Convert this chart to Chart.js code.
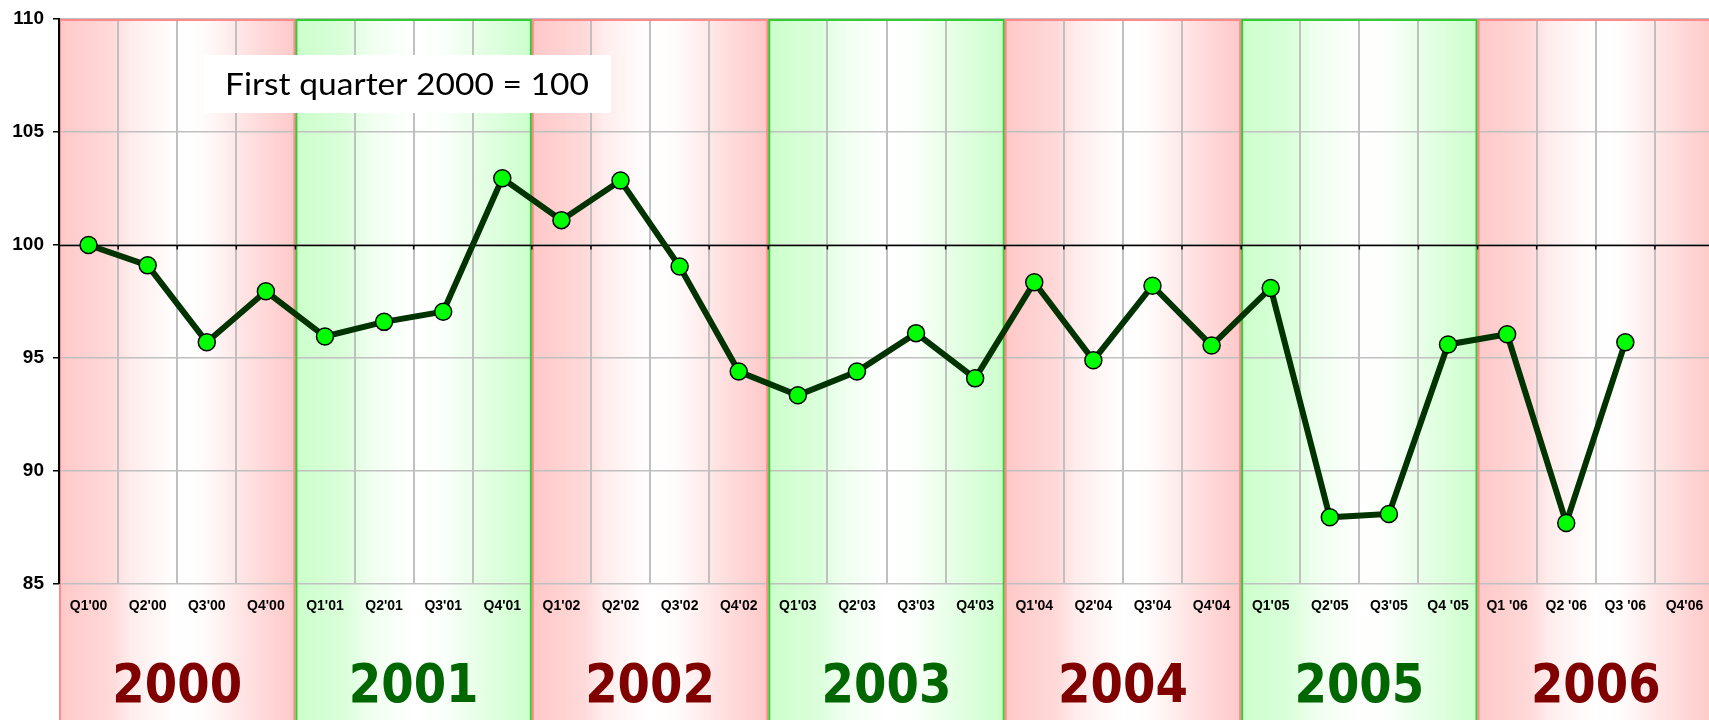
<!DOCTYPE html>
<html>
<head>
<meta charset="utf-8">
<script src="https://cdn.jsdelivr.net/npm/chart.js@4/dist/chart.umd.min.js"></script>
<style>
  html, body { margin: 0; padding: 0; overflow: hidden; background: #fff; }
  canvas { display: block; }
</style>
</head>
<body>
<canvas id="c" width="1714" height="720"></canvas>
<script>
// quarterly index, first quarter 2000 = 100
const quarters = [
  "Q1'00", "Q2'00", "Q3'00", "Q4'00",
  "Q1'01", "Q2'01", "Q3'01", "Q4'01",
  "Q1'02", "Q2'02", "Q3'02", "Q4'02",
  "Q1'03", "Q2'03", "Q3'03", "Q4'03",
  "Q1'04", "Q2'04", "Q3'04", "Q4'04",
  "Q1'05", "Q2'05", "Q3'05", "Q4 '05",
  "Q1 '06", "Q2 '06", "Q3 '06", "Q4'06"
];
const indexValues = [
  100.0, 99.1, 95.7, 97.95,
  95.95, 96.6, 97.05, 102.95,
  101.1, 102.85, 99.05, 94.4,
  93.35, 94.4, 96.1, 94.1,
  98.35, 94.9, 98.2, 95.55,
  98.1, 87.95, 88.1, 95.6,
  96.05, 87.7, 95.7, null
];
const years = ['2000', '2001', '2002', '2003', '2004', '2005', '2006'];
const yTicks = [85, 90, 95, 100, 105, 110];
const baseLine = 100;
const noteText = 'First quarter 2000 = 100';

// colours alternate red / green per year
const bandTint = ['255,200,200', '204,255,204'];
const bandEdge = ['#ff8a8a', '#33cc33'];
const yearInk = ['#800000', '#006600'];

function bandGradient(ctx, left, right, tint) {
  const g = ctx.createLinearGradient(left, 0, right, 0);
  g.addColorStop(0, 'rgba(' + tint + ',1)');
  g.addColorStop(0.22, 'rgba(' + tint + ',0.7)');
  g.addColorStop(0.3, 'rgba(' + tint + ',0.35)');
  g.addColorStop(0.5, 'rgba(' + tint + ',0)');
  g.addColorStop(0.62, 'rgba(' + tint + ',0.08)');
  g.addColorStop(0.78, 'rgba(' + tint + ',0.5)');
  g.addColorStop(1, 'rgba(' + tint + ',1)');
  return g;
}

function bandBounds(x, i) {
  const step = x.getPixelForValue(1) - x.getPixelForValue(0);
  const left = x.getPixelForValue(i * 4) - step / 2;
  const right = x.getPixelForValue(i * 4 + 3) + step / 2;
  return { left, right, step };
}

const yearBands = {
  id: 'yearBands',
  beforeDraw(chart) {
    const ctx = chart.ctx;
    const x = chart.scales.x;
    const top = chart.chartArea.top;
    ctx.save();
    ctx.fillStyle = '#fff';
    ctx.fillRect(0, 0, chart.width, chart.height);
    years.forEach((y, i) => {
      const b = bandBounds(x, i);
      ctx.fillStyle = bandGradient(ctx, b.left, b.right, bandTint[i % 2]);
      ctx.fillRect(b.left, top, b.right - b.left, chart.height - top);
    });
    ctx.restore();
  },
  beforeDatasetsDraw(chart) {
    const ctx = chart.ctx;
    const x = chart.scales.x;
    const yS = chart.scales.y;
    const area = chart.chartArea;
    ctx.save();
    // band outlines
    ctx.lineWidth = 2;
    years.forEach((y, i) => {
      const b = bandBounds(x, i);
      ctx.strokeStyle = bandEdge[i % 2];
      ctx.beginPath();
      ctx.moveTo(b.left + 1, chart.height);
      ctx.lineTo(b.left + 1, area.top + 1);
      ctx.lineTo(b.right - 1, area.top + 1);
      ctx.lineTo(b.right - 1, chart.height);
      ctx.stroke();
    });
    // redraw the y axis line over the first band edge
    ctx.strokeStyle = '#000';
    ctx.beginPath();
    ctx.moveTo(area.left, area.top);
    ctx.lineTo(area.left, area.bottom);
    ctx.stroke();
    // reference line at 100 with small ticks
    const yb = Math.round(yS.getPixelForValue(baseLine)) + 0.5;
    ctx.lineWidth = 1.5;
    ctx.beginPath();
    ctx.moveTo(area.left, yb);
    ctx.lineTo(area.right, yb);
    const step = x.getPixelForValue(1) - x.getPixelForValue(0);
    for (let i = 0; i <= quarters.length; i++) {
      const px = x.getPixelForValue(i) - step / 2;
      ctx.moveTo(px, yb);
      ctx.lineTo(px, yb + 4);
    }
    ctx.stroke();
    ctx.restore();
  },
  afterDraw(chart) {
    const ctx = chart.ctx;
    const x = chart.scales.x;
    ctx.save();
    // year captions under the quarter labels
    ctx.font = 'bold 53px "DejaVu Sans"';
    ctx.textAlign = 'center';
    ctx.textBaseline = 'alphabetic';
    years.forEach((y, i) => {
      const b = bandBounds(x, i);
      const cx = (b.left + b.right) / 2;
      ctx.save();
      ctx.translate(cx, 702);
      ctx.scale(0.88, 1);
      ctx.fillStyle = yearInk[i % 2];
      ctx.fillText(y, 0, 0);
      ctx.restore();
    });
    // note box
    ctx.fillStyle = '#fff';
    ctx.fillRect(204, 55, 407, 58);
    ctx.fillStyle = '#000';
    ctx.font = '30px Lato';
    const w = ctx.measureText(noteText).width;
    ctx.translate(407, 95);
    ctx.scale(364 / w, 1);
    ctx.fillText(noteText, 0, 0);
    ctx.restore();
  }
};

new Chart(document.getElementById('c'), {
  type: 'line',
  data: {
    labels: quarters,
    datasets: [{
      data: indexValues,
      borderColor: '#003300',
      borderWidth: 6,
      tension: 0,
      pointRadius: 8.5,
      pointBackgroundColor: '#00ff00',
      pointBorderColor: '#000',
      pointBorderWidth: 1.5
    }]
  },
  options: {
    responsive: false,
    animation: false,
    devicePixelRatio: 1,
    layout: { autoPadding: false, padding: { top: 19, left: 0, right: 0, bottom: 0 } },
    plugins: { legend: { display: false }, tooltip: { enabled: false } },
    scales: {
      x: {
        type: 'category',
        offset: true,
        grid: { offset: true, color: '#c0c0c0', lineWidth: 2, drawTicks: false },
        border: { display: false },
        ticks: {
          autoSkip: false, maxRotation: 0, padding: 14, color: '#000',
          font: { family: '"Liberation Sans", Arial', size: 14, weight: 'bold' }
        },
        afterFit(scale) { scale.height = 136; scale.paddingLeft = 0; scale.paddingRight = 0; }
      },
      y: {
        min: yTicks[0],
        max: yTicks[yTicks.length - 1],
        afterBuildTicks(scale) { scale.ticks = yTicks.map(v => ({ value: v })); },
        grid: { color: '#c0c0c0', lineWidth: 1.5, tickColor: '#000', tickLength: 6 },
        border: { color: '#000', width: 2 },
        ticks: {
          padding: 9, color: '#000',
          font: { family: '"Liberation Sans", Arial', size: 19, weight: 'bold' }
        },
        afterFit(scale) { scale.width = 59; scale.paddingTop = 0; scale.paddingBottom = 0; }
      }
    }
  },
  plugins: [yearBands]
});
</script>
</body>
</html>
